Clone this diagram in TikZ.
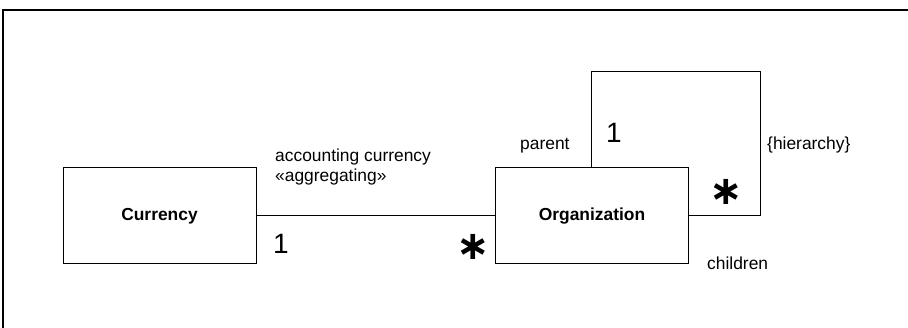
\documentclass[tikz,border=0pt]{standalone}
\usepackage{fontspec}
\setmainfont{Liberation Sans}
\newfontfamily\symfont{DejaVu Sans}
\begin{document}
\begin{tikzpicture}[x=1pt,y=-1pt,
  classbox/.style={draw,line width=1pt,minimum width=193pt,minimum height=96pt,
    inner sep=0pt,font=\fontsize{17.4}{20}\selectfont\bfseries},
  rolelabel/.style={anchor=base west,inner sep=0pt,font=\fontsize{17.4}{20}\selectfont},
  multone/.style={inner sep=0pt,font=\fontsize{28}{30}\selectfont},
  multmany/.style={inner sep=0pt,font=\fontsize{40}{40}\selectfont\symfont\bfseries},
  assoc/.style={line width=1pt}]
\useasboundingbox (0,0) rectangle (908,328);
% diagram frame: top and left edges
\draw[line width=2pt] (3,329) -- (3,10) -- (909,10);

% classes
\node[classbox] (cur) at (159.5,216) {Currency};
\node[classbox] (org) at (592,216) {Organization};

% association Currency -- Organization
\draw[assoc] (cur.east) -- (org.west);
\node[rolelabel] (accname) at (275,162) {accounting currency};
\node[rolelabel] (accster) at (275,182) {«aggregating»};
\node[multone] (curmult) at (281,244) {1};
\node[multmany] (orgmult) at (473,247) {∗};

% reflexive hierarchy association on Organization
\coordinate (loopcorner) at (760,72);
\draw[assoc] ([xshift=96pt]org.north west) |- (loopcorner) |- (org.east);
\node[rolelabel] (parent) at (520,150) {parent};
\node[multone] (parmult) at (614,133) {1};
\node[rolelabel] (constr) at (767,150) {\{hierarchy\}};
\node[multmany] (chmult) at (726,192) {∗};
\node[rolelabel] (children) at (707,270) {children};
\end{tikzpicture}
\end{document}
